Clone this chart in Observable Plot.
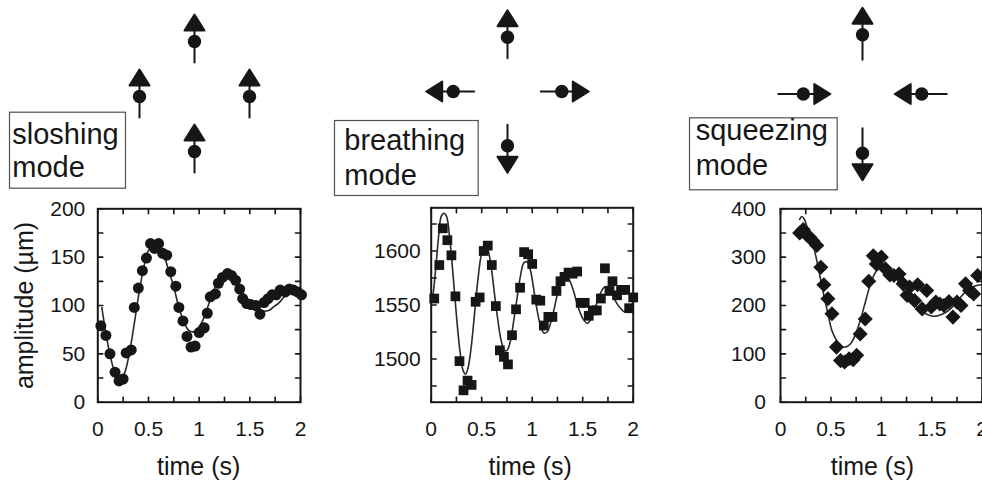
<!DOCTYPE html>
<html><head><meta charset="utf-8">
<script src="https://cdn.jsdelivr.net/npm/d3@7"></script>
<script src="https://cdn.jsdelivr.net/npm/@observablehq/plot@0.6"></script>
<style>
html,body{margin:0;padding:0;background:#fff;}
#wrap{position:relative;width:982px;height:483px;overflow:hidden;background:#fff;}
#wrap > svg{position:absolute;margin:0;overflow:visible;}
</style></head><body><div id="wrap"></div>
<script>
const FONT = '"Liberation Sans", Arial, Helvetica, sans-serif';

// ---------- data ----------
const xTitle = "time (s)";
const yTitle = "amplitude (µm)";
const modeLabels = [["sloshing", "mode"], ["breathing", "mode"], ["squeezing", "mode"]];
const xTickLabels = [0, 0.5, 1, 1.5, 2];
const xTicks = [0, 0.25, 0.5, 0.75, 1, 1.25, 1.5, 1.75, 2];

// sloshing mode
const sloshT = [0.03,0.08,0.12,0.17,0.21,0.25,0.28,0.33,0.36,0.40,0.44,0.48,0.52,0.56,0.60,0.64,0.68,0.72,0.77,0.80,0.84,0.88,0.92,0.96,1.00,1.05,1.08,1.11,1.16,1.19,1.23,1.28,1.32,1.36,1.40,1.43,1.47,1.51,1.56,1.60,1.64,1.68,1.72,1.76,1.80,1.85,1.89,1.93,1.97,2.01];
const sloshV = [79,69,50,31,22,24,51,54,98,118,136,149,164,159,164,154,152,135,120,98,84,68,57,58,72,77,92,109,112,123,129,133,131,126,117,107,102,101,100,91,103,107,111,111,116,114,117,116,114,111];
const sloshFitT = [0.04,0.08,0.125,0.175,0.22,0.26,0.31,0.355,0.405,0.455,0.50,0.55,0.60,0.65,0.70,0.75,0.80,0.85,0.90,0.95,1.00,1.05,1.10,1.145,1.195,1.245,1.29,1.34,1.39,1.44,1.49,1.54,1.59,1.64,1.69,1.74,1.79,1.84,1.885,1.935,1.985];
const sloshFitV = [98,71,47,29,24,29,50,78,112,140,157,162,160,152,136,119,98,83,74,73,78,88,103,116,126,133,134,131,122,112,103,98,95,94,95,99,103,109,113,115,115];
const sloshYLabels = [0, 50, 100, 150, 200];
const sloshYTicks = [0, 25, 50, 75, 100, 125, 150, 175, 200];

// breathing mode
const breathT = [0.03,0.08,0.115,0.16,0.20,0.24,0.28,0.32,0.36,0.40,0.44,0.48,0.52,0.56,0.60,0.64,0.68,0.72,0.76,0.80,0.84,0.88,0.92,0.96,1.00,1.04,1.08,1.115,1.16,1.20,1.24,1.28,1.32,1.36,1.40,1.445,1.48,1.52,1.56,1.60,1.64,1.68,1.72,1.765,1.795,1.84,1.88,1.92,1.96,2.00];
const breathV = [1556,1587,1621,1610,1596,1558,1498,1471,1480,1476,1553,1557,1600,1605,1587,1549,1508,1502,1495,1522,1546,1566,1599,1597,1588,1555,1554,1531,1539,1539,1563,1572,1576,1580,1579,1581,1552,1552,1540,1545,1545,1556,1584,1563,1572,1559,1564,1564,1547,1557];
const breathFitT = [0.013,0.043,0.076,0.099,0.125,0.152,0.185,0.218,0.251,0.284,0.317,0.34,0.363,0.396,0.429,0.462,0.495,0.528,0.561,0.594,0.627,0.66,0.693,0.726,0.752,0.785,0.818,0.851,0.884,0.917,0.95,0.983,1.016,1.049,1.082,1.115,1.148,1.181,1.214,1.247,1.28,1.313,1.346,1.379,1.412,1.445,1.478,1.511,1.544,1.577,1.61,1.643,1.676,1.709,1.742,1.775,1.808,1.841,1.874,1.907,1.94,1.973,2.0];
const breathFitV = [1554,1582,1616,1632,1635,1632,1610,1576,1539,1508,1489,1486,1491,1511,1542,1573,1596,1605,1601,1585,1560,1536,1517,1508,1508,1517,1536,1557,1577,1589,1590,1582,1564,1545,1531,1524,1525,1533,1545,1559,1570,1575,1576,1571,1562,1551,1542,1536,1533,1536,1543,1553,1561,1566,1567,1564,1557,1551,1547,1544,1544,1548,1553];
const breathYLabels = [1500, 1550, 1600];
const breathYTicks = [1475, 1500, 1525, 1550, 1575, 1600, 1625];

// squeezing mode
const squeezeT = [0.19,0.225,0.26,0.29,0.32,0.36,0.40,0.43,0.47,0.51,0.555,0.595,0.635,0.68,0.72,0.755,0.79,0.84,0.875,0.92,0.95,1.00,1.04,1.085,1.125,1.175,1.215,1.255,1.28,1.33,1.36,1.405,1.45,1.495,1.54,1.58,1.62,1.67,1.71,1.75,1.79,1.835,1.875,1.915,1.955];
const squeezeV = [350,357,346,341,334,324,279,243,214,183,114,86,83,90,88,97,141,172,250,303,286,300,276,263,262,265,245,221,238,210,243,193,231,197,207,203,200,208,176,207,200,245,231,224,262];
const squeezeFitT = [0.19,0.21,0.235,0.265,0.305,0.345,0.39,0.43,0.47,0.51,0.555,0.595,0.645,0.695,0.745,0.795,0.845,0.89,0.94,0.99,1.04,1.09,1.14,1.19,1.24,1.29,1.34,1.39,1.44,1.49,1.54,1.59,1.64,1.69,1.74,1.785,1.835,1.885,1.935,1.99];
const squeezeFitV = [378,384,379,362,341,307,262,221,183,148,128,116,114,121,141,172,210,243,268,279,281,272,259,241,224,210,199,190,183,179,178,181,186,194,205,217,228,236,241,243];
const squeezeYLabels = [0, 100, 200, 300, 400];
const squeezeYTicks = [0, 50, 100, 150, 200, 250, 300, 350, 400];

// particle diagrams: position on unit cross, arrow direction (degrees clockwise from up)
const sloshParts = [{x:0,y:1,dir:0},{x:-1,y:0,dir:0},{x:1,y:0,dir:0},{x:0,y:-1,dir:0}];
const breathParts = [{x:0,y:1,dir:0},{x:-1,y:0,dir:270},{x:1,y:0,dir:90},{x:0,y:-1,dir:180}];
const squeezeParts = [{x:0,y:1,dir:0},{x:-1,y:0,dir:90},{x:1,y:0,dir:270},{x:0,y:-1,dir:180}];

// ---------- drawing ----------
const wrap = document.getElementById("wrap");
const INK = "#161616";
const TICKFS = 21;
const tickShape = {draw(ctx, l) { ctx.moveTo(0, 0); ctx.lineTo(0, -l); }};
const arrowShape = {draw(ctx, l) {
  ctx.moveTo(0, l); ctx.lineTo(0, -11);
  ctx.moveTo(0, -27); ctx.lineTo(10, -11); ctx.lineTo(-10, -11); ctx.closePath();
}};

function place(el, left, top) {
  el.style.left = left + "px"; el.style.top = top + "px";
  wrap.appendChild(el);
}

function chart(p) {
  const pts = p.t.map((t, i) => ({t, v: p.v[i]}));
  const fit = p.ft.map((t, i) => ({t, v: p.fv[i]}));
  const tk = {length: 5, anchor: "start", shape: tickShape, stroke: INK, strokeWidth: 1.6};
  const marks = [
    Plot.line(fit, {x: "t", y: "v", stroke: "#2a2a2a", strokeWidth: 1.6, curve: "catmull-rom"}),
    Plot.dot(pts, {x: "t", y: "v", symbol: p.symbol, r: p.r, fill: INK, stroke: "none"}),
    Plot.frame({stroke: INK, strokeWidth: 2}),
    Plot.vector(xTicks, {...tk, x: d => d, frameAnchor: "bottom", rotate: 0}),
    Plot.vector(xTicks, {...tk, x: d => d, frameAnchor: "top", rotate: 180}),
    Plot.vector(p.yTicks, {...tk, y: d => d, frameAnchor: "left", rotate: 90}),
    Plot.vector(p.yTicks, {...tk, y: d => d, frameAnchor: "right", rotate: 270}),
    Plot.text(xTickLabels, {x: d => d, text: d => String(d), frameAnchor: "bottom", textAnchor: "middle",
      lineAnchor: "top", dy: 18.5, fontSize: TICKFS, fill: INK}),
    Plot.text(p.yLabels, {y: d => d, text: d => String(d), frameAnchor: "left", textAnchor: "end",
      lineAnchor: "middle", dx: -p.gap, fontSize: TICKFS, fill: INK}),
    Plot.text([xTitle], {text: d => d, frameAnchor: "bottom", textAnchor: "middle", lineAnchor: "bottom", dy: 73, dx: p.titleDx, fontSize: 25, fill: INK})
  ];
  if (p.yTitle) marks.push(Plot.text([p.yTitle], {text: d => d, frameAnchor: "left", textAnchor: "middle", lineAnchor: "middle", rotate: -90, dx: -73, fontSize: 25, fill: INK}));
  return Plot.plot({
    width: p.w, height: p.h,
    marginLeft: p.ml, marginRight: p.mr, marginTop: p.mt, marginBottom: p.mb,
    x: {domain: [0, 2], axis: null}, y: {domain: p.yDomain, axis: null},
    style: {fontFamily: FONT, fontSize: "20px", color: INK, background: "none", overflow: "visible"},
    marks
  });
}

function diagram(parts, cx, cy, s, stem) {
  const W = 200, H = 200;
  const el = Plot.plot({
    width: W, height: H,
    marginLeft: W / 2 - s, marginRight: W / 2 - s, marginTop: cy - s, marginBottom: H - cy - s,
    x: {domain: [-1, 1], axis: null}, y: {domain: [-1, 1], axis: null},
    style: {background: "none", overflow: "visible"},
    marks: [
      Plot.vector(parts, {x: "x", y: "y", rotate: "dir", length: stem, anchor: "start", shape: arrowShape,
        stroke: INK, fill: INK, strokeWidth: 2, strokeLinejoin: "round"}),
      Plot.dot(parts, {x: "x", y: "y", r: 6.7, fill: INK, stroke: "none"})
    ]
  });
  place(el, cx - W / 2, 0);
}

// diagrams
diagram(sloshParts, 193.7, 96, 55, 21);
diagram(breathParts, 506.7, 91, 54.3, 21);
diagram(squeezeParts, 861.7, 93.5, 59.2, 25);

// charts
place(chart({t: sloshT, v: sloshV, ft: sloshFitT, fv: sloshFitV, symbol: "circle", r: 5.5,
  yDomain: [0, 200], yLabels: sloshYLabels, yTicks: sloshYTicks, gap: 12.5, titleDx: -0.5, yTitle,
  w: 330, h: 293, ml: 97.3, mr: 30, mt: 18.3, mb: 81.3}), 0, 190);
place(chart({t: breathT, v: breathV, ft: breathFitT, fv: breathFitV, symbol: "square", r: 5.5,
  yDomain: [1460, 1640], yLabels: breathYLabels, yTicks: breathYTicks, gap: 10.5, titleDx: -2,
  w: 330, h: 293, ml: 100.7, mr: 27.3, mt: 17.3, mb: 81.3}), 330, 190);
place(chart({t: squeezeT, v: squeezeV, ft: squeezeFitT, fv: squeezeFitV, symbol: "diamond2", r: 6.8,
  yDomain: [0, 400], yLabels: squeezeYLabels, yTicks: squeezeYTicks, gap: 14.5, titleDx: -9,
  w: 340, h: 293, ml: 120, mr: 18.3, mt: 18.3, mb: 81.3}), 660, 190);

// mode label boxes
const boxes = [
  {x: 9, y: 111.7, w: 116, h: 76, tx: 12.3, b1: 144, b2: 177},
  {x: 334, y: 120, w: 143.7, h: 75, tx: 344.3, b1: 149.5, b2: 185},
  {x: 689, y: 117.3, w: 147.7, h: 72, tx: 695.7, b1: 140, b2: 175}
];
const ov = d3.create("svg").attr("width", 982).attr("height", 483).style("left", "0px").style("top", "0px")
  .style("pointer-events", "none");
boxes.forEach((b, i) => {
  ov.append("rect").attr("x", b.x + 0.5).attr("y", b.y + 0.5).attr("width", b.w).attr("height", b.h)
    .attr("fill", "none").attr("stroke", "#505050").attr("stroke-width", 1.2);
  [b.b1, b.b2].forEach((bl, j) => {
    ov.append("text").attr("x", b.tx).attr("y", bl).attr("font-family", FONT).attr("font-size", 29)
      .attr("fill", INK).text(modeLabels[i][j]);
  });
});
wrap.appendChild(ov.node());
</script></body></html>
